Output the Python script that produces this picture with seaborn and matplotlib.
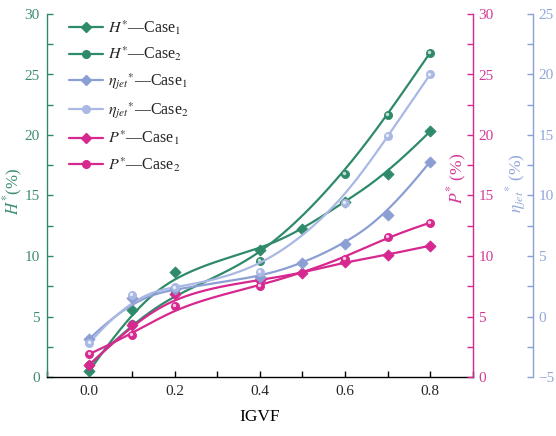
import numpy as np
import matplotlib
matplotlib.use("Agg")
import matplotlib.pyplot as plt
import matplotlib.transforms as mtransforms
from matplotlib.lines import Line2D
from matplotlib.ticker import MultipleLocator
import seaborn as sns

# IGVF sampling points
igvf_case1 = [0.0, 0.1, 0.2, 0.4, 0.5, 0.6, 0.7, 0.8]
igvf_case2 = [0.0, 0.1, 0.2, 0.4, 0.6, 0.7, 0.8]

# Relative head H* (%)
h_case1 = [0.5, 5.5, 8.7, 10.5, 12.2, 14.5, 16.8, 20.3]
h_case2 = [1.0, 4.4, 7.0, 9.6, 16.8, 21.65, 26.8]

# Relative jet efficiency eta_jet* (%)
eta_case1 = [-1.86, 1.5, 2.3, 3.24, 4.4, 6.0, 8.4, 12.8]
eta_case2 = [-2.2, 1.8, 2.4, 3.7, 9.4, 14.9, 20.0]

# Relative power P* (%)
p_case1 = [1.0, 4.3, 6.9, 8.0, 8.6, 9.5, 10.1, 10.85]
p_case2 = [1.9, 3.5, 5.9, 7.5, 9.75, 11.6, 12.75]

GREEN = "#2f8a69"
PINK = "#d6288e"
BLUE1 = "#8c9fd4"
BLUE2 = "#aab8e4"
GREEN_T = "#3d8d71"
PINK_T = "#d43a96"
BLUE_T = "#93a6d8"

sns.set_theme(style="white")
plt.rcParams["font.family"] = ["Liberation Serif", "DejaVu Serif"]
plt.rcParams["mathtext.fontset"] = "stix"


def bspline_curve(xs, ys, num=300, degree=3):
    """Clamped cubic B-spline using the data points as control points."""
    pts = np.column_stack([xs, ys]).astype(float)
    n = len(pts)
    k = degree
    knots = np.concatenate([np.zeros(k), np.arange(n - k + 1), np.full(k, n - k)]).astype(float)
    t = np.linspace(0, n - k, num)
    t[-1] = n - k - 1e-9
    N = np.zeros((num, len(knots) - 1))
    for i in range(len(knots) - 1):
        N[:, i] = (t >= knots[i]) & (t < knots[i + 1])
    for d in range(1, k + 1):
        Nn = np.zeros((num, len(knots) - 1 - d))
        for i in range(len(knots) - 1 - d):
            den1 = knots[i + d] - knots[i]
            den2 = knots[i + d + 1] - knots[i + 1]
            a = (t - knots[i]) / den1 * N[:, i] if den1 > 0 else 0.0
            b = (knots[i + d + 1] - t) / den2 * N[:, i + 1] if den2 > 0 else 0.0
            Nn[:, i] = a + b
        N = Nn
    curve = N @ pts
    return curve[:, 0], curve[:, 1]


W, H = 556, 436
fig = plt.figure(figsize=(W / 100, H / 100), dpi=100)
ax = fig.add_axes([46.7 / W, 1 - 377 / H, (472.7 - 46.7) / W, (377 - 14) / H])
ax_p = ax.twinx()
ax_e = ax.twinx()
ax_e.spines["right"].set_position(("outward", 60 * 72 / 100))


def draw_series(axis, xs, ys, color, marker, size):
    cx, cy = bspline_curve(xs, ys)
    sns.lineplot(x=cx, y=cy, sort=False, estimator=None, ax=axis,
                 color=color, lw=1.6, legend=False, zorder=2)
    sns.scatterplot(x=xs, y=ys, marker=marker, s=size, color=color,
                    edgecolor=color, linewidth=0.6, ax=axis, legend=False, zorder=3)
    if marker == "o":
        shine = mtransforms.offset_copy(axis.transData, fig=fig, x=-0.8, y=0.8, units="dots")
        axis.scatter(xs, ys, s=6, color="white", alpha=0.75, linewidths=0,
                     transform=shine, zorder=4)


draw_series(ax, igvf_case1, h_case1, GREEN, "D", 32)
draw_series(ax, igvf_case2, h_case2, GREEN, "o", 34)
draw_series(ax_p, igvf_case1, p_case1, PINK, "D", 32)
draw_series(ax_p, igvf_case2, p_case2, PINK, "o", 34)
draw_series(ax_e, igvf_case1, eta_case1, BLUE1, "D", 32)
draw_series(ax_e, igvf_case2, eta_case2, BLUE2, "o", 34)

ax.set_xlim(-0.1, 0.9)
ax.set_ylim(0, 30)
ax_p.set_ylim(0, 30)
ax_e.set_ylim(-5, 25)

ax.xaxis.set_minor_locator(MultipleLocator(0.1))
ax.set_xticks([0.0, 0.2, 0.4, 0.6, 0.8])
ax.set_xticklabels(["0.0", "0.2", "0.4", "0.6", "0.8"])
for a in (ax, ax_p, ax_e):
    a.yaxis.set_major_locator(MultipleLocator(5))
    a.yaxis.set_minor_locator(MultipleLocator(2.5))
    a.grid(False)
    a.set_facecolor("none")
    for s in a.spines.values():
        s.set_visible(False)
        s.set_linewidth(1.0)

ax.spines["left"].set_visible(True)
ax.spines["left"].set_color(GREEN)
ax.spines["bottom"].set_visible(True)
ax.spines["bottom"].set_color("black")
ax_p.spines["right"].set_visible(True)
ax_p.spines["right"].set_color(PINK)
ax_e.spines["right"].set_visible(True)
ax_e.spines["right"].set_color(BLUE1)

ax.tick_params(axis="x", which="both", direction="in", length=4, width=1.0,
               color="black", labelsize=11, pad=6, bottom=True)
ax.tick_params(axis="y", which="both", direction="in", length=4, width=1.0,
               color=GREEN, labelcolor=GREEN_T, labelsize=11, pad=5, left=True)
ax_p.tick_params(axis="y", which="both", direction="in", length=4, width=1.0,
                 color=PINK, labelcolor=PINK_T, labelsize=11, pad=4, right=True)
ax_e.tick_params(axis="y", which="both", direction="in", length=4, width=1.0,
                 color=BLUE1, labelcolor=BLUE_T, labelsize=11, pad=4, right=True)

ax.set_xlabel("IGVF", fontsize=12.5, color="black", labelpad=8)
ax.set_ylabel("")
ax_p.set_ylabel("")
ax_e.set_ylabel("")

fig.text(13.5 / W, 1 - 192 / H, r"$H^{*}$(%)", rotation=90, ha="center", va="center",
         color=GREEN_T, fontsize=12)
fig.text(457 / W, 1 - 178 / H, r"$P^{*}$ (%)", rotation=90, ha="center", va="center",
         color=PINK_T, fontsize=12.5)
fig.text(516 / W, 1 - 183 / H, r"$\eta_{jet}{}^{*}$ (%)", rotation=90, ha="center",
         va="center", color=BLUE_T, fontsize=12.5)

handles = [
    Line2D([], [], color=GREEN, lw=1.6, marker="D", ms=5.5),
    Line2D([], [], color=GREEN, lw=1.6, marker="o", ms=5.5),
    Line2D([], [], color=BLUE1, lw=1.6, marker="D", ms=5.5),
    Line2D([], [], color=BLUE2, lw=1.6, marker="o", ms=5.5),
    Line2D([], [], color=PINK, lw=1.6, marker="D", ms=5.5),
    Line2D([], [], color=PINK, lw=1.6, marker="o", ms=5.5),
]
labels = [
    r"$H^{*}$—Case$_{1}$",
    r"$H^{*}$—Case$_{2}$",
    r"$\eta_{jet}{}^{*}$—Case$_{1}$",
    r"$\eta_{jet}{}^{*}$—Case$_{2}$",
    r"$P^{*}$—Case$_{1}$",
    r"$P^{*}$—Case$_{2}$",
]
leg = ax_e.legend(handles, labels, loc="upper left",
                  bbox_to_anchor=(69 / W, 1 - 18 / H), bbox_transform=fig.transFigure,
                  frameon=False, fontsize=11.5, handlelength=2.1, handletextpad=0.35,
                  labelspacing=0.5, borderpad=0, borderaxespad=0)

fig.savefig("out.png", dpi=100)
